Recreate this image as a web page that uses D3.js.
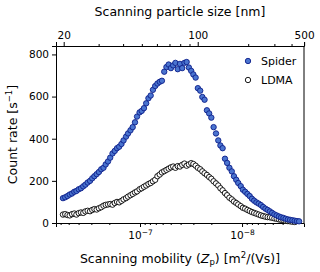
<!DOCTYPE html>
<html>
<head>
<meta charset="utf-8">
<script src="https://cdn.jsdelivr.net/npm/d3@7"></script>
<style>
body { margin: 0; background: #fff; }
svg { font-family: "DejaVu Sans", sans-serif; }
</style>
</head>
<body>
<div id="chart"></div>
<script>
// scanning mobility in m^2/(Vs)
var mobility = [
  5.69e-7, 5.41e-7, 5.14e-7, 4.89e-7, 4.64e-7, 4.41e-7, 4.20e-7, 3.99e-7, 3.79e-7, 3.60e-7,
  3.43e-7, 3.26e-7, 3.09e-7, 2.94e-7, 2.80e-7, 2.66e-7, 2.53e-7, 2.40e-7, 2.28e-7, 2.17e-7,
  2.06e-7, 1.96e-7, 1.86e-7, 1.77e-7, 1.68e-7, 1.60e-7, 1.52e-7, 1.45e-7, 1.37e-7, 1.31e-7,
  1.24e-7, 1.18e-7, 1.12e-7, 1.07e-7, 1.01e-7, 9.63e-8, 9.15e-8, 8.70e-8, 8.27e-8, 7.86e-8,
  7.47e-8, 7.10e-8, 6.75e-8, 6.41e-8, 6.10e-8, 5.79e-8, 5.51e-8, 5.24e-8, 4.98e-8, 4.73e-8,
  4.50e-8, 4.27e-8, 4.06e-8, 3.86e-8, 3.67e-8, 3.49e-8, 3.32e-8, 3.15e-8, 3.00e-8, 2.85e-8,
  2.71e-8, 2.57e-8, 2.45e-8, 2.33e-8, 2.21e-8, 2.10e-8, 2.00e-8, 1.90e-8, 1.80e-8, 1.71e-8,
  1.63e-8, 1.55e-8, 1.47e-8, 1.40e-8, 1.33e-8, 1.26e-8, 1.20e-8, 1.14e-8, 1.09e-8, 1.03e-8,
  9.81e-9, 9.32e-9, 8.86e-9, 8.42e-9, 8.00e-9, 7.61e-9, 7.23e-9, 6.87e-9, 6.53e-9, 6.21e-9,
  5.90e-9, 5.61e-9, 5.33e-9, 5.07e-9, 4.82e-9, 4.58e-9, 4.35e-9, 4.14e-9, 3.93e-9, 3.74e-9,
  3.55e-9, 3.38e-9, 3.21e-9, 3.05e-9, 2.90e-9, 2.76e-9
];

var spider = [
  118, 122, 128, 135, 140, 148, 152, 160, 165, 174,
  182, 192, 200, 212, 222, 232, 242, 255, 262, 278,
  292, 310, 330, 342, 355, 362, 375, 392, 410, 425,
  440, 455, 478, 505, 525, 532, 545, 568, 592, 605,
  632, 650, 662, 670, 675, 718, 740, 752, 735, 748,
  760, 730, 755, 735, 760, 764, 738, 722, 705, 690,
  640, 628, 598, 585, 535, 520, 500, 455, 425, 392,
  368, 355, 305, 285, 262, 245, 222, 205, 190, 175,
  158, 148, 138, 128, 115, 106, 98, 92, 85, 76,
  68, 62, 55, 48, 41, 36, 31, 27, 24, 20,
  17, 15, 13, 11, 9, 8
];

var ldma = [
  40, 42, 38, 36, 42, 45, 40, 47, 50, 48,
  55, 58, 56, 62, 66, 64, 70, 75, 82, 86,
  88, 90, 87, 95, 100, 98, 105, 112, 118, 125,
  132, 138, 145, 150, 160, 165, 172, 178, 185, 190,
  198, 205, 222, 230, 240, 246, 252, 258, 264, 268,
  262, 270, 268, 276, 282, 272, 278, 284, 280, 272,
  262, 255, 245, 236, 228, 218, 210, 198, 188, 178,
  165, 155, 142, 132, 120, 112, 102, 95, 88, 80,
  72, 68, 62, 57, 52, 48, 44, 40, 36, 33,
  30, 28, 27, 25, 22, 20, 17, 15, 13, 11,
  9, 8, 6, 5
];

var yTicks = [0, 200, 400, 600, 800];
var sizeTicks = [20, 100, 500];
var sizeMinor = [30, 40, 50, 60, 70, 80, 90, 200, 300, 400];

var margin = {left: 56, right: 16, top: 46, bottom: 49};
var width = 320 - margin.left - margin.right;
var height = 272 - margin.top - margin.bottom;

// particle diameter (nm) -> electrical mobility, with slip correction
function sizeToMobility(dnm) {
    var d = dnm * 1e-9;
    var kn = 2 * 67.3e-9 / d;
    var cc = 1 + kn * (1.142 + 0.558 * Math.exp(-0.999 / kn));
    return 1.602e-19 * cc / (3 * Math.PI * 1.81e-5 * d);
}

var svg = d3.select("#chart")
    .append("svg")
    .attr("width", 320)
    .attr("height", 272);

var g = svg.append("g")
    .attr("transform", "translate(" + margin.left + "," + margin.top + ")");

var xScale = d3.scaleLog()
    .domain([6.66e-7, 2.47e-9])
    .range([0, width]);

var yScale = d3.scaleLinear()
    .domain([0, 840])
    .range([height, 0]);

// bottom axis
var xAxis = d3.axisBottom(xScale)
    .tickValues([1e-7, 1e-8])
    .tickSize(4)
    .tickPadding(3)
    .tickFormat("");
var gX = g.append("g")
    .attr("transform", "translate(0," + height + ")")
    .call(xAxis);

var minorX = [];
[1e-9, 1e-8, 1e-7].forEach(function(dec) {
    for (var k = 2; k <= 9; k++) {
        var v = k * dec;
        if (v <= 6.66e-7 && v >= 2.47e-9) minorX.push(v);
    }
});
g.append("g")
    .attr("transform", "translate(0," + height + ")")
    .call(d3.axisBottom(xScale).tickValues(minorX).tickSize(2).tickFormat(""))
    .select(".domain").remove();

gX.selectAll(".tick").each(function(d) {
    var t = d3.select(this).append("text")
        .attr("fill", "#000")
        .attr("y", 16)
        .attr("text-anchor", "middle")
        .attr("font-size", "10.5px");
    t.append("tspan").text("10");
    t.append("tspan")
        .attr("dy", "-4")
        .attr("font-size", "7.5px")
        .text("\u2212" + Math.round(-Math.log10(d)));
});

// top axis: particle size
var topAxis = d3.axisTop(xScale)
    .tickValues(sizeTicks.map(sizeToMobility))
    .tickSize(4)
    .tickPadding(3)
    .tickFormat(function(d, i) { return sizeTicks[i]; });
var gTop = g.append("g").call(topAxis);
g.append("g")
    .call(d3.axisTop(xScale).tickValues(sizeMinor.map(sizeToMobility)).tickSize(2).tickFormat(""))
    .select(".domain").remove();

// y axis
var yAxis = d3.axisLeft(yScale)
    .tickValues(yTicks)
    .tickSize(4)
    .tickPadding(3);
var gY = g.append("g").call(yAxis);

g.append("line")
    .attr("x1", width).attr("x2", width)
    .attr("y1", 0).attr("y2", height)
    .attr("stroke", "#000");

svg.selectAll(".tick text").attr("font-size", "10.5px").attr("font-family", "DejaVu Sans");
svg.selectAll(".domain, .tick line").attr("stroke", "#000");

// points
var ldmaData = ldma.map(function(v, i) { return {z: mobility[i], c: v}; });
var spiderData = spider.map(function(v, i) { return {z: mobility[i], c: v}; });

g.selectAll(".ldma")
    .data(ldmaData)
    .enter().append("circle")
    .attr("class", "ldma")
    .attr("cx", function(d) { return xScale(d.z); })
    .attr("cy", function(d) { return yScale(d.c); })
    .attr("r", 2.7)
    .attr("fill", "#fff")
    .attr("stroke", "#000")
    .attr("stroke-width", 0.9);

g.selectAll(".spider")
    .data(spiderData)
    .enter().append("circle")
    .attr("class", "spider")
    .attr("cx", function(d) { return xScale(d.z); })
    .attr("cy", function(d) { return yScale(d.c); })
    .attr("r", 2.7)
    .attr("fill", "#4a74cf")
    .attr("stroke", "#0c1e8a")
    .attr("stroke-width", 0.9);

// legend
var legend = g.append("g").attr("transform", "translate(" + (width - 56) + ",15)");
legend.append("circle").attr("cx", 0).attr("cy", 0).attr("r", 2.7)
    .attr("fill", "#4a74cf").attr("stroke", "#0c1e8a").attr("stroke-width", 0.9);
legend.append("text").attr("x", 13).attr("y", 4).attr("font-size", "11px").text("Spider");
legend.append("circle").attr("cx", 0).attr("cy", 19).attr("r", 2.7)
    .attr("fill", "#fff").attr("stroke", "#000").attr("stroke-width", 0.9);
legend.append("text").attr("x", 13).attr("y", 23).attr("font-size", "11px").text("LDMA");

// axis labels
svg.append("text")
    .attr("x", margin.left + width / 2)
    .attr("y", 16)
    .attr("text-anchor", "middle")
    .attr("font-size", "12.5px")
    .text("Scanning particle size [nm]");

var xl = svg.append("text")
    .attr("x", margin.left + width / 2)
    .attr("y", 263)
    .attr("text-anchor", "middle")
    .attr("font-size", "12.5px");
xl.append("tspan").text("Scanning mobility (");
xl.append("tspan").attr("font-style", "italic").text("Z");
xl.append("tspan").attr("font-size", "8.5px").attr("dy", 2).text("p");
xl.append("tspan").attr("dy", -2).text(") [m");
xl.append("tspan").attr("font-size", "8.5px").attr("dy", -5).text("2");
xl.append("tspan").attr("dy", 5).text("/(Vs)]");

var yl = svg.append("text")
    .attr("transform", "translate(17," + (margin.top + height / 2) + ") rotate(-90)")
    .attr("text-anchor", "middle")
    .attr("font-size", "12.5px");
yl.append("tspan").text("Count rate [s");
yl.append("tspan").attr("font-size", "8.5px").attr("dy", -5).text("\u22121");
yl.append("tspan").attr("dy", 5).text("]");
</script>
</body>
</html>
